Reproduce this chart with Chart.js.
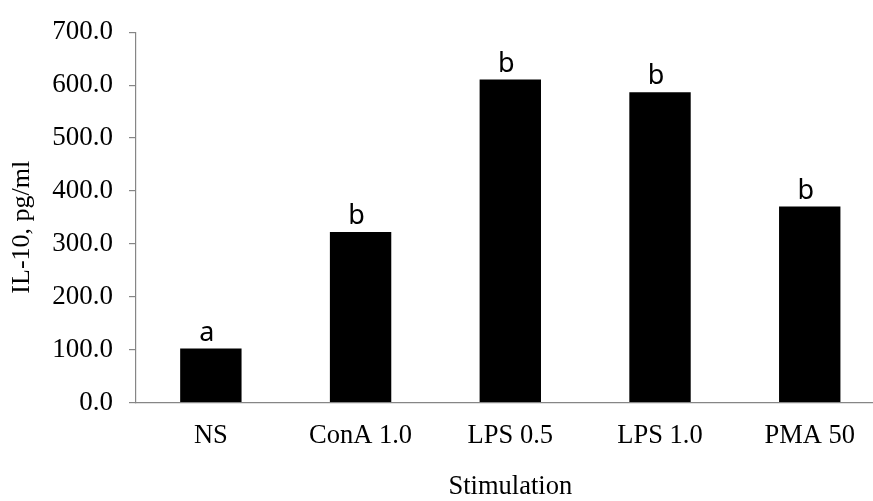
<!DOCTYPE html>
<html>
<head>
<meta charset="utf-8">
<script src="https://cdn.jsdelivr.net/npm/chart.js@4"></script>
<style>
  html, body { margin: 0; padding: 0; background: #fff; overflow: hidden; }
  #wrap { width: 886px; height: 501px; }
</style>
</head>
<body>
<div id="wrap"><canvas id="barChart" width="886" height="501"></canvas></div>
<script>
// IL-10 response per stimulation
const stimLabels = ["NS", "ConA 1.0", "LPS 0.5", "LPS 1.0", "PMA 50"];
const il10Values = [102.4, 322.5, 610.5, 586.5, 370.5];
const groupLetters = ["a", "b", "b", "b", "b"];
const yTicks = [0, 100, 200, 300, 400, 500, 600, 700];

const serif = "'Liberation Serif', 'Times New Roman', serif";
const axisGrey = "#868686";

// letters above each bar
const letterPlugin = {
    id: "letters",
    afterDatasetsDraw(chart) {
        const ctx = chart.ctx;
        const meta = chart.getDatasetMeta(0);
        ctx.save();
        ctx.font = "27px 'Noto Sans', sans-serif";
        ctx.fillStyle = "#000";
        ctx.textAlign = "center";
        ctx.textBaseline = "alphabetic";
        meta.data.forEach(function (bar, i) {
            ctx.fillText(groupLetters[i], bar.x - 4, bar.y - 8);
        });
        ctx.restore();
    },
};

document.addEventListener("DOMContentLoaded", function () {
    const ctx = document.getElementById("barChart").getContext("2d");

    const barData = {
        labels: stimLabels,
        datasets: [
            {
                label: "IL-10",
                data: il10Values,
                backgroundColor: "#000",
                borderColor: "#000",
                borderWidth: 0,
                barPercentage: 0.41,
                categoryPercentage: 1.0,
            },
        ],
    };

    const barConfig = {
        type: "bar",
        data: barData,
        options: {
            responsive: false,
            animation: false,
            layout: { padding: { top: 22.7, right: 1.4, left: 0, bottom: 0 } },
            plugins: {
                legend: { display: false },
                tooltip: { enabled: false },
            },
            scales: {
                x: {
                    afterFit(scale) {
                        scale.height = 98.3;
                    },
                    grid: { display: false, drawTicks: false },
                    border: { display: true, color: axisGrey, width: 1.2 },
                    ticks: {
                        color: "#000",
                        padding: 17,
                        maxRotation: 0,
                        font: { family: serif, size: 26.5 },
                    },
                    title: {
                        display: true,
                        text: "Stimulation",
                        color: "#000",
                        font: { family: serif, size: 26.5 },
                        padding: { top: 0, bottom: -2 },
                    },
                },
                y: {
                    min: 0,
                    max: 700,
                    afterBuildTicks(scale) {
                        scale.ticks = yTicks.map(function (v) { return { value: v }; });
                    },
                    afterFit(scale) {
                        scale.width = 136;
                    },
                    grid: {
                        drawOnChartArea: false,
                        drawTicks: true,
                        tickLength: 7,
                        color: axisGrey,
                        lineWidth: 1.2,
                    },
                    border: { display: true, color: axisGrey, width: 1.2 },
                    ticks: {
                        color: "#000",
                        padding: 16,
                        font: { family: serif, size: 27 },
                        callback: function (v) { return Number(v).toFixed(1); },
                    },
                    title: {
                        display: true,
                        text: "IL-10, pg/ml   ",
                        color: "#000",
                        font: { family: serif, size: 26 },
                        padding: { top: 7, bottom: 0 },
                    },
                },
            },
        },
        plugins: [letterPlugin],
    };

    const barChart = new Chart(ctx, barConfig);
});
</script>
</body>
</html>
